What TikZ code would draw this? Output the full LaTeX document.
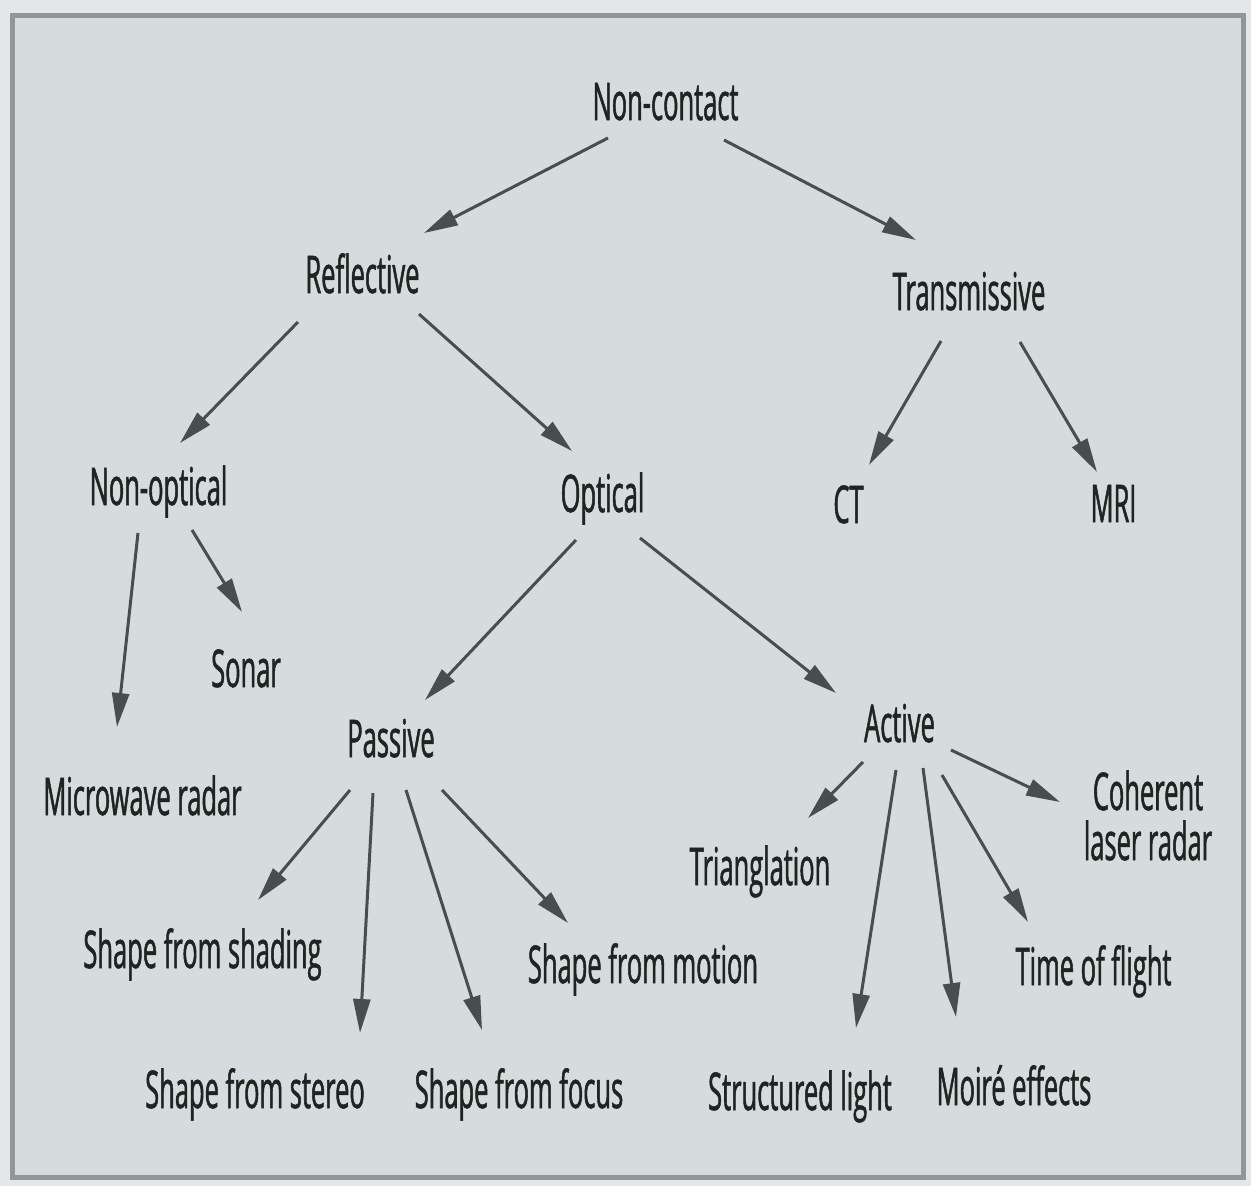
\documentclass[tikz,border=0pt]{standalone}
\usepackage{fontspec}
\setmainfont{Open Sans}[FakeStretch=0.49, FakeBold=1]
\usetikzlibrary{arrows.meta}
\definecolor{paper}{RGB}{228,231,232}
\definecolor{panel}{RGB}{214,219,222}
\definecolor{frame}{RGB}{145,150,150}
\definecolor{ink}{RGB}{28,38,33}
\definecolor{arrgray}{RGB}{72,78,78}

\begin{document}
\begin{tikzpicture}[x=1pt, y=-1pt,
  lbl/.style={font=\fontsize{52}{50}\selectfont, text=ink, inner sep=0pt, anchor=base},
  arr/.style={draw=arrgray, line width=3pt, -{Triangle[length=34pt,width=17pt]}}]
\useasboundingbox (0,0) rectangle (1251,1186);
\fill[paper] (0,0) rectangle (1251,1186);
\filldraw[fill=panel, draw=frame, line width=5pt] (12,15) rectangle (1243,1177);

% labels
\node[lbl] (nc) at (665.5,120) {Non-contact};
\node[lbl] (refl) at (362.5,293) {Reflective};
\node[lbl] (trans) at (969,310) {Transmissive};
\node[lbl] (nonopt) at (158.5,505) {Non-optical};
\node[lbl] (opt) at (602.5,512) {Optical};
\node[lbl] (ct) at (848.5,523) {CT};
\node[lbl] (mri) at (1113.5,522) {MRI};
\node[lbl] (sonar) at (246,687) {Sonar};
\node[lbl] (micro) at (142.5,815) {Microwave radar};
\node[lbl] (pas) at (391,757) {Passive};
\node[lbl] (act) at (899.5,742) {Active};
\node[lbl, align=center] (coh) at (1148,860) {Coherent\\laser radar};
\node[lbl] (tri) at (760,885) {Trianglation};
\node[lbl] (shad) at (202.5,968) {Shape from shading};
\node[lbl] (motion) at (643,983) {Shape from motion};
\node[lbl] (tof) at (1093.5,985) {Time of flight};
\node[lbl] (stereo) at (255,1108) {Shape from stereo};
\node[lbl] (focus) at (519,1108) {Shape from focus};
\node[lbl] (struct) at (800,1110) {Structured light};
\node[lbl] (moire) at (1014,1105) {Moiré effects};

% arrows
\draw[arr] ([shift={(-57.5,18)}]nc.base) -- ([shift={(61.5,-60)}]refl.base);
\draw[arr] ([shift={(58.5,20)}]nc.base) -- ([shift={(-53,-70)}]trans.base);
\draw[arr] ([shift={(-64.5,29)}]refl.base) -- ([shift={(21.5,-62)}]nonopt.base);
\draw[arr] ([shift={(56.5,21)}]refl.base) -- ([shift={(-30.5,-61)}]opt.base);
\draw[arr] ([shift={(-28,31)}]trans.base) -- ([shift={(20.5,-58)}]ct.base);
\draw[arr] ([shift={(51,32)}]trans.base) -- ([shift={(-16.5,-50)}]mri.base);
\draw[arr] ([shift={(-20.5,28)}]nonopt.base) -- ([shift={(-25.5,-88)}]micro.base);
\draw[arr] ([shift={(33.5,25)}]nonopt.base) -- ([shift={(-4,-75)}]sonar.base);
\draw[arr] ([shift={(-26.5,28)}]opt.base) -- ([shift={(34,-57)}]pas.base);
\draw[arr] ([shift={(37.5,26)}]opt.base) -- ([shift={(-63.5,-49)}]act.base);
\draw[arr] ([shift={(-41,33)}]pas.base) -- ([shift={(55.5,-68)}]shad.base);
\draw[arr] ([shift={(-18,36)}]pas.base) -- ([shift={(105,-75)}]stereo.base);
\draw[arr] ([shift={(15,33)}]pas.base) -- ([shift={(-37,-78)}]focus.base);
\draw[arr] ([shift={(51,33)}]pas.base) -- ([shift={(-75,-60)}]motion.base);
\draw[arr] ([shift={(-36.5,20)}]act.base) -- ([shift={(48,-67)}]tri.base);
\draw[arr] ([shift={(-3.5,28)}]act.base) -- ([shift={(56,-82)}]struct.base);
\draw[arr] ([shift={(23.5,26)}]act.base) -- ([shift={(-58,-88)}]moire.base);
\draw[arr] ([shift={(42.5,33)}]act.base) -- ([shift={(-65.5,-63)}]tof.base);
\draw[arr] ([shift={(51.5,8)}]act.base) -- ([shift={(-88,-58)}]coh.base);
\end{tikzpicture}
\end{document}
